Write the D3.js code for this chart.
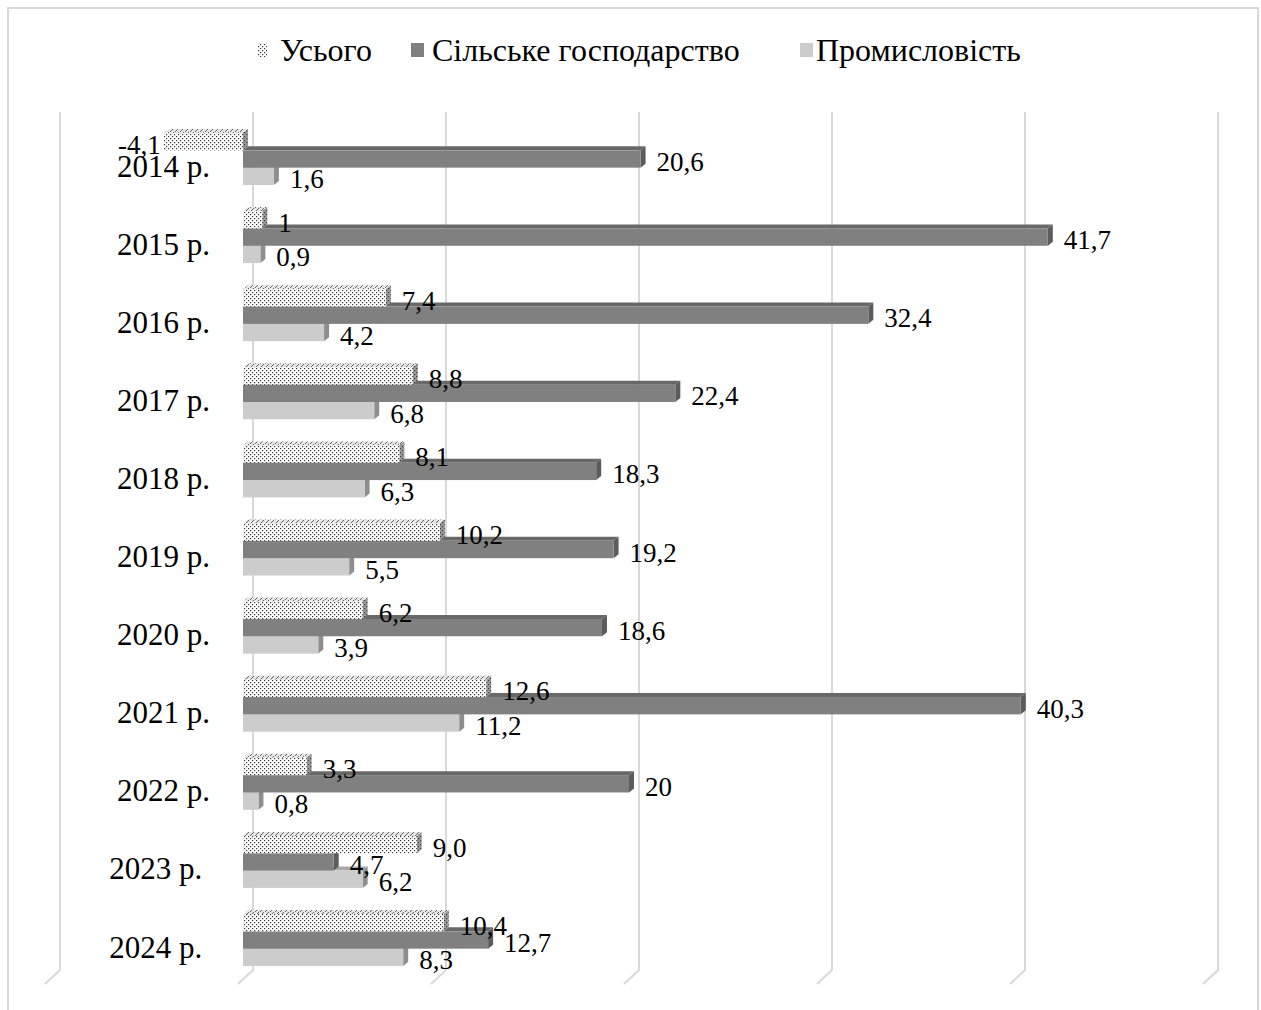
<!DOCTYPE html>
<html>
<head>
<meta charset="utf-8">
<script src="https://cdn.jsdelivr.net/npm/d3@7"></script>
<style>
  html, body { margin: 0; padding: 0; background: #fff; }
  svg { display: block; }
  text { font-family: "Liberation Serif", "Times New Roman", serif; fill: #000; }
</style>
</head>
<body>
<svg id="chart" width="1261" height="1010"></svg>
<script>
// Categories (years) and the three series
const years = ["2014 р.", "2015 р.", "2016 р.", "2017 р.", "2018 р.", "2019 р.",
               "2020 р.", "2021 р.", "2022 р.", "2023 р. ", "2024 р. "];
const seriesNames = ["Усього", "Сільське господарство", "Промисловість"];

const totalValues    = [-4.1, 1, 7.4, 8.8, 8.1, 10.2, 6.2, 12.6, 3.3, 9.0, 10.4];
const agroValues     = [20.6, 41.7, 32.4, 22.4, 18.3, 19.2, 18.6, 40.3, 20, 4.7, 12.7];
const industryValues = [1.6, 0.9, 4.2, 6.8, 6.3, 5.5, 3.9, 11.2, 0.8, 6.2, 8.3];

// value labels as printed next to the bars
const totalLabels    = ["-4,1", "1", "7,4", "8,8", "8,1", "10,2", "6,2", "12,6", "3,3", "9,0", "10,4"];
const agroLabels     = ["20,6", "41,7", "32,4", "22,4", "18,3", "19,2", "18,6", "40,3", "20", "4,7", "12,7"];
const industryLabels = ["1,6", "0,9", "4,2", "6,8", "6,3", "5,5", "3,9", "11,2", "0,8", "6,2", "8,3"];

const gridTicks = [-10, 0, 10, 20, 30, 40, 50];

const series = [
  { name: seriesNames[0], values: totalValues,    labels: totalLabels },
  { name: seriesNames[1], values: agroValues,     labels: agroLabels },
  { name: seriesNames[2], values: industryValues, labels: industryLabels }
];

const svg = d3.select("#chart");
const defs = svg.append("defs");

// dotted fills for the "total" series
function dotPattern(id, bg, dot) {
  const p = defs.append("pattern").attr("id", id)
    .attr("patternUnits", "userSpaceOnUse").attr("width", 4).attr("height", 4);
  p.append("rect").attr("width", 4).attr("height", 4).attr("fill", bg);
  p.append("rect").attr("x", 0).attr("y", 0).attr("width", 1.2).attr("height", 1.2).attr("fill", dot);
  p.append("rect").attr("x", 2).attr("y", 2).attr("width", 1.2).attr("height", 1.2).attr("fill", dot);
}
dotPattern("dotFront", "#ffffff", "#333333");
dotPattern("dotSide", "#9a9a9a", "#3a3a3a");
// hatched top face of the "total" bars
(function () {
  const p = defs.append("pattern").attr("id", "dotTop")
    .attr("patternUnits", "userSpaceOnUse").attr("width", 5).attr("height", 4);
  p.append("rect").attr("width", 5).attr("height", 4).attr("fill", "#e6e6e6");
  p.append("line").attr("x1", 0).attr("y1", 4).attr("x2", 4).attr("y2", 0)
    .attr("stroke", "#666").attr("stroke-width", 1);
})();

const styles = [
  { front: "url(#dotFront)", top: "url(#dotTop)", side: "url(#dotSide)", swatch: "url(#dotFront)" },
  { front: "#808080", top: "#686868", side: "#5c5c5c", swatch: "#808080" },
  { front: "#cccccc", top: "#a8a8a8", side: "#8e8e8e", swatch: "#cccccc" }
];

// chart area border
svg.append("rect").attr("x", 8).attr("y", 8).attr("width", 1250).attr("height", 1020)
  .attr("fill", "none").attr("stroke", "#d9d9d9").attr("stroke-width", 2);

// scales: front face of bars and back wall (shifted by depth)
const x = d3.scaleLinear().domain([-10, 50]).range([50, 1208]);
const backShift = 10;
const y = d3.scalePoint().domain(years).range([159, 940]);
const ySeries = d3.scaleBand().domain(seriesNames).range([-26, 26]);
const depthX = 5, depthY = 4;

// back-wall gridlines with the slanted floor edge
const gridTop = 112, gridBottom = 970;
svg.append("g").selectAll("path").data(gridTicks).join("path")
  .attr("d", d => {
    const gx = x(d) + backShift;
    return `M${gx},${gridTop}V${gridBottom}L${gx - 15},${gridBottom + 14}`;
  })
  .attr("fill", "none").attr("stroke", "#d9d9d9").attr("stroke-width", 2);

// category axis
const axis = svg.append("g").attr("transform", `translate(${x(0)},0)`)
  .call(d3.axisLeft(y).tickSize(0).tickPadding(33));
axis.select(".domain").remove();
axis.selectAll("text").attr("font-size", 31).attr("dy", "0.55em")
  .style("white-space", "pre")
  .style("font-family", "'Liberation Serif', 'Times New Roman', serif");

// bars, drawn from the bottom series up so upper bars cover lower top faces
const barsG = svg.append("g");
[2, 1, 0].forEach(si => {
  const s = series[si], st = styles[si];
  const g = barsG.append("g");
  years.forEach((yr, i) => {
    const v = s.values[i];
    const x0 = Math.min(x(0), x(v)), x1 = Math.max(x(0), x(v));
    const yt = y(yr) + ySeries(s.name), h = ySeries.bandwidth();
    g.append("polygon")
      .attr("points", [[x0, yt], [x0 + depthX, yt - depthY], [x1 + depthX, yt - depthY], [x1, yt]].join(" "))
      .attr("fill", st.top);
    g.append("polygon")
      .attr("points", [[x1, yt], [x1 + depthX, yt - depthY], [x1 + depthX, yt + h - depthY], [x1, yt + h]].join(" "))
      .attr("fill", st.side);
    g.append("rect").attr("x", x0).attr("y", yt).attr("width", x1 - x0).attr("height", h)
      .attr("fill", st.front);
  });
});

// value labels
const labelsG = svg.append("g");
series.forEach(s => {
  years.forEach((yr, i) => {
    const v = s.values[i];
    const cy = y(yr) + ySeries(s.name) + ySeries.bandwidth() / 2 + 3;
    const t = labelsG.append("text").attr("y", cy).attr("dominant-baseline", "central")
      .attr("font-size", 27).text(s.labels[i]);
    if (v < 0) t.attr("x", x(v) - 3).attr("text-anchor", "end");
    else t.attr("x", x(v) + depthX + 11).attr("text-anchor", "start");
  });
});

// legend above the plot
const legendY = 50;
const legendSwatchX = [258, 411, 800];
const legendTextX = [280, 432, 816];
const legend = svg.append("g");
seriesNames.forEach((name, i) => {
  const sw = i === 0 ? 9 : 13;
  legend.append("rect").attr("x", legendSwatchX[i]).attr("y", legendY - 7)
    .attr("width", sw).attr("height", 14).attr("fill", styles[i].swatch);
  legend.append("text").attr("x", legendTextX[i]).attr("y", legendY)
    .attr("dominant-baseline", "central").attr("font-size", 32).text(name);
});
</script>
</body>
</html>
